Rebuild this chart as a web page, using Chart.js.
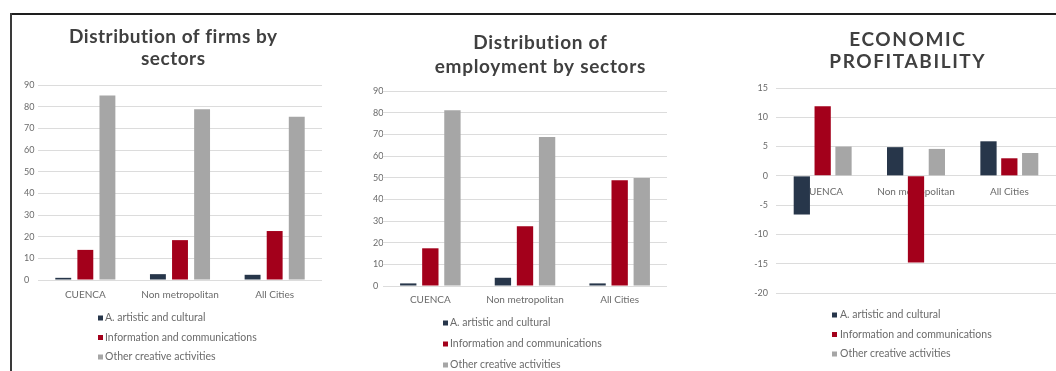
<!DOCTYPE html>
<html>
<head>
<meta charset="utf-8">
<script src="https://cdn.jsdelivr.net/npm/chart.js@4.4.1/dist/chart.umd.min.js"></script>
<style>
  html, body { margin: 0; padding: 0; background: #ffffff; }
  #page { position: relative; width: 1056px; height: 371px; overflow: hidden; background: #fff; }
  .frame-top { position: absolute; left: 10px; top: 13px; width: 1046px; height: 2px; background: #1e1e1e; }
  .frame-left { position: absolute; left: 10px; top: 13px; width: 2px; height: 358px; background: #3a3a3a; }
  .box { position: absolute; top: 16px; height: 355px; }
  .box canvas { display: block; }
</style>
</head>
<body>
<div id="page">
  <div class="frame-top"></div>
  <div class="frame-left"></div>
  <div class="box" style="left:14px;width:318px;"><canvas id="c1" width="318" height="355"></canvas></div>
  <div class="box" style="left:365px;width:350px;"><canvas id="c2" width="350" height="355"></canvas></div>
  <div class="box" style="left:740px;width:316px;"><canvas id="c3" width="316" height="355"></canvas></div>
</div>
<script>
// Categories and series
const categories = ['CUENCA', 'Non metropolitan', 'All Cities'];
const seriesNames = ['A. artistic and cultural', 'Information and communications', 'Other creative activities'];

// Distribution of firms by sectors (%)
const firmsArtistic = [1, 2.7, 2.4];
const firmsInfo = [13.9, 18.4, 22.6];
const firmsOther = [85.1, 78.8, 75.4];

// Distribution of employment by sectors (%)
const employArtistic = [1.2, 3.8, 1.2];
const employInfo = [17.4, 27.6, 48.8];
const employOther = [81.1, 68.8, 49.9];

// Economic profitability
const profitArtistic = [-6.6, 4.9, 5.9];
const profitInfo = [11.9, -14.8, 3.0];
const profitOther = [5.0, 4.6, 3.9];

// Value axis bounds and steps: [min, max, step]
const firmsTicks = [0, 90, 10];
const employTicks = [0, 90, 10];
const profitTicks = [-20, 15, 5];

const seriesColors = ['#27364a', '#a3001b', '#a6a6a6'];
const textGrey = '#6b6b6b';
const titleGrey = '#404040';
const FONT = 'Lato, "Open Sans", sans-serif';

// Two-line heading drawn above the plot
const heading = {
  id: 'heading',
  afterDraw(chart, args, opts) {
    const ctx = chart.ctx;
    ctx.save();
    ctx.font = 'bold ' + opts.size + 'px ' + FONT;
    if ('letterSpacing' in ctx) ctx.letterSpacing = opts.spacing + 'px';
    ctx.fillStyle = titleGrey;
    ctx.textAlign = 'center';
    ctx.textBaseline = 'middle';
    opts.lines.forEach((line, i) => {
      ctx.fillText(line, opts.x + opts.spacing / 2, opts.y + i * opts.dy);
    });
    ctx.restore();
  }
};

// Vertical legend drawn under the plot
const stackedLegend = {
  id: 'stackedLegend',
  afterDraw(chart, args, opts) {
    const ctx = chart.ctx;
    ctx.save();
    ctx.font = '10.5px ' + FONT;
    ctx.textBaseline = 'middle';
    ctx.textAlign = 'left';
    chart.data.datasets.forEach((ds, i) => {
      const y = opts.y + i * opts.dy;
      ctx.fillStyle = ds.backgroundColor;
      ctx.fillRect(opts.x, y - 2.5, 5, 5);
      ctx.fillStyle = textGrey;
      ctx.fillText(ds.label, opts.x + opts.gap, y);
    });
    ctx.restore();
  }
};

function makeDatasets(values, catPct, barPct) {
  return values.map((vals, i) => ({
    label: seriesNames[i],
    data: vals,
    backgroundColor: seriesColors[i],
    borderWidth: 0,
    categoryPercentage: catPct,
    barPercentage: barPct
  }));
}

function buildChart(id, cfg) {
  return new Chart(document.getElementById(id), {
    type: 'bar',
    data: { labels: categories, datasets: makeDatasets(cfg.values, cfg.catPct, cfg.barPct) },
    plugins: [heading, stackedLegend],
    options: {
      responsive: false,
      animation: false,
      layout: { padding: cfg.padding },
      plugins: {
        legend: { display: false },
        tooltip: { enabled: false },
        title: { display: false },
        heading: cfg.heading,
        stackedLegend: cfg.legend
      },
      scales: {
        x: {
          position: cfg.xAtZero ? { y: 0 } : 'bottom',
          grid: { display: false, drawTicks: false },
          border: { display: false },
          ticks: { color: textGrey, font: { family: FONT, size: 10 }, padding: cfg.xPad, maxRotation: 0, autoSkip: false },
          afterFit: cfg.xAtZero ? undefined : (s) => { s.height = 30; }
        },
        y: {
          min: cfg.ticks[0],
          max: cfg.ticks[1],
          grid: { color: '#dcdcdc', lineWidth: 1, drawTicks: false },
          border: { display: false },
          ticks: {
            stepSize: cfg.ticks[2],
            color: textGrey,
            font: { family: FONT, size: 9 },
            crossAlign: cfg.yAlign,
            padding: cfg.yPad
          },
          afterFit: (s) => { s.width = cfg.yWidth; }
        }
      }
    }
  });
}

buildChart('c1', {
  values: [firmsArtistic, firmsInfo, firmsOther],
  ticks: firmsTicks,
  heading: { lines: ['Distribution of firms by', 'sectors'], x: 159, y: 21, dy: 22, size: 19, spacing: 0.5 },
  padding: { left: 10, right: 10, top: 69, bottom: 61 },
  yWidth: 14, yAlign: 'far', yPad: 3,
  xPad: 9, catPct: 0.7, barPct: 0.72,
  legend: { x: 84, y: 302, dy: 19.5, gap: 7 }
});

buildChart('c2', {
  values: [employArtistic, employInfo, employOther],
  ticks: employTicks,
  heading: { lines: ['Distribution of', 'employment by sectors'], x: 175, y: 27, dy: 24, size: 19, spacing: 0.7 },
  padding: { left: 8, right: 48, top: 75, bottom: 55 },
  yWidth: 10, yAlign: 'far', yPad: 3,
  xPad: 8, catPct: 0.7, barPct: 0.74,
  legend: { x: 78, y: 307, dy: 21, gap: 7 }
});

buildChart('c3', {
  values: [profitArtistic, profitInfo, profitOther],
  ticks: profitTicks,
  heading: { lines: ['ECONOMIC', 'PROFITABILITY'], x: 167, y: 24, dy: 22, size: 19, spacing: 1.6 },
  padding: { left: 0, right: 0, top: 72, bottom: 78 },
  yWidth: 36, yAlign: 'near', yPad: 8,
  xPad: 10, xAtZero: true, catPct: 0.67, barPct: 0.78,
  legend: { x: 92, y: 299, dy: 19.5, gap: 8 }
});
</script>
</body>
</html>
